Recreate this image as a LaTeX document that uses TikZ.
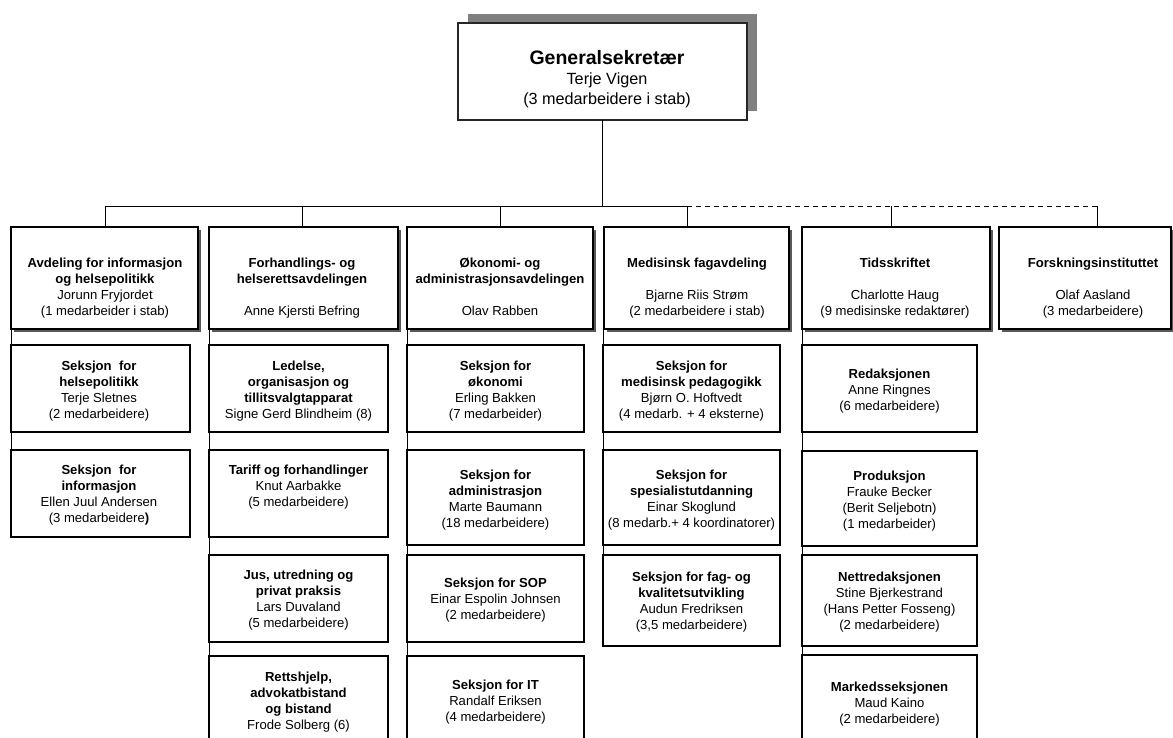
\documentclass[tikz,border=0pt]{standalone}
\usepackage{fontspec}
\setmainfont{Liberation Sans}
\usetikzlibrary{shadows}
\tikzset{
  subbox/.style={draw=black, line width=1.2pt, fill=white, inner sep=0pt, outer sep=0pt, anchor=north west},
  deptbox/.style={draw=black, line width=2.4pt, fill=white, inner sep=0pt, outer sep=0pt, anchor=north west,
     drop shadow={shadow xshift=3pt, shadow yshift=-3pt, fill=black!65, opacity=1}},
  topbox/.style={draw=black!85, line width=1.6pt, fill=white, inner sep=0pt, outer sep=0pt, anchor=north west,
     drop shadow={shadow xshift=10pt, shadow yshift=9pt, fill=black!50, opacity=1}},
  txt/.style={anchor=north, inner sep=0pt, outer sep=0pt, align=center, font=\fontsize{13.1}{16}\selectfont},
  conn/.style={line width=1pt, draw=black},
}
\newcommand{\fl}{\rule{0pt}{12pt}}
\begin{document}
\begin{tikzpicture}[x=1pt, y=-1pt]
\useasboundingbox (0,0) rectangle (1173,737);
\fill[white] (0,0) rectangle (1173,737);
\begin{scope}
\clip (0,0) rectangle (1173,737);

% connectors first
\coordinate (bl) at (105,206);
\coordinate (bm) at (687,206);
\coordinate (br) at (1097,206);
\coordinate (d2) at (302,206);
\coordinate (d3) at (500,206);
\coordinate (d5) at (891,206);

% top box
\node[topbox, minimum width=289pt, minimum height=97pt] (gs) at (458,23) {};
\node[anchor=north, inner sep=0pt, align=center, font=\fontsize{16.2}{20}\selectfont] (gst) at (607,48)
  {{\bfseries\fontsize{19.5}{20}\selectfont\rule{0pt}{16pt}Generalsekretær}\\Terje Vigen\\(3 medarbeidere i stab)};

\draw[conn] (gs.south) -- (gs.south |- bl);
\draw[conn] (bl) -- (bm);
\draw[conn, dash pattern=on 5pt off 4pt] (bm) -- (br);

% department boxes
\node[deptbox, minimum width=187pt, minimum height=102pt] (b1) at (11,227) {};
\node[deptbox, minimum width=189pt, minimum height=102pt] (b2) at (209,227) {};
\node[deptbox, minimum width=186pt, minimum height=102pt] (b3) at (407,227) {};
\node[deptbox, minimum width=185pt, minimum height=102pt] (b4) at (604,227) {};
\node[deptbox, minimum width=188pt, minimum height=102pt] (b5) at (802,227) {};
\node[deptbox, minimum width=172pt, minimum height=102pt] (b6) at (999,227) {};

\draw[conn] (bl) -- (bl |- b1.north);
\draw[conn] (d2) -- (d2 |- b2.north);
\draw[conn] (d3) -- (d3 |- b3.north);
\draw[conn] (bm) -- (bm |- b4.north);
\draw[conn] (d5) -- (d5 |- b5.north);
\draw[conn] (br) -- (br |- b6.north);

\node[txt] (t1) at (105,255.7) {\fl\textbf{Avdeling for informasjon}\\\textbf{og helsepolitikk}\\Jorunn Fryjordet\\(1 medarbeider i stab)};
\node[txt] (t2) at (302,255.7) {\fl\textbf{Forhandlings- og}\\\textbf{helserettsavdelingen}\\[16pt]Anne Kjersti Befring};
\node[txt] (t3) at (500,255.7) {\fl\textbf{Økonomi- og}\\\textbf{administrasjonsavdelingen}\\[16pt]Olav Rabben};
\node[txt] (t4) at (697,255.7) {\fl\textbf{Medisinsk fagavdeling}\\[16pt]Bjarne Riis Strøm\\(2 medarbeidere i stab)};
\node[txt] (t5) at (895,255.7) {\fl\textbf{Tidsskriftet}\\[16pt]Charlotte Haug\\(9 medisinske redaktører)};
\node[txt] (t6) at (1093,255.7) {\fl\textbf{Forskningsinstituttet}\\[16pt]Olaf Aasland\\(3 medarbeidere)};

% column 1
\node[subbox, minimum width=179pt, minimum height=87pt] (c1a) at (11,345) {};
\node[subbox, minimum width=179pt, minimum height=87pt] (c1b) at (11,450) {};
\draw[conn] (b1.south -| c1a.west) -- (c1b.north west);
\node[txt] (c1at) at (99,358.7) {\fl\textbf{Seksjon\ \ for}\\\textbf{helsepolitikk}\\Terje Sletnes\\(2 medarbeidere)};
\node[txt] (c1bt) at (99,462.7) {\fl\textbf{Seksjon\ \ for}\\\textbf{informasjon}\\Ellen Juul Andersen\\(3 medarbeidere\textbf{)}};

% column 2
\node[subbox, minimum width=179pt, minimum height=87pt] (c2a) at (209,345) {};
\node[subbox, minimum width=179pt, minimum height=87pt] (c2b) at (209,450) {};
\node[subbox, minimum width=179pt, minimum height=87pt] (c2c) at (209,555) {};
\node[subbox, minimum width=179pt, minimum height=110pt] (c2d) at (209,656) {};
\draw[conn] (b2.south -| c2a.west) -- (c2d.north west);
\node[txt] (c2at) at (298.5,358.7) {\fl\textbf{Ledelse,}\\\textbf{organisasjon og}\\\textbf{tillitsvalgtapparat}\\Signe Gerd Blindheim (8)};
\node[txt] (c2bt) at (298.5,462.7) {\fl\textbf{Tariff og forhandlinger}\\Knut Aarbakke\\(5 medarbeidere)};
\node[txt] (c2ct) at (298.5,567.7) {\fl\textbf{Jus, utredning og}\\\textbf{privat praksis}\\Lars Duvaland\\(5 medarbeidere)};
\node[txt] (c2dt) at (298.5,669.7) {\fl\textbf{Rettshjelp,}\\\textbf{advokatbistand}\\\textbf{og bistand}\\Frode Solberg (6)};

% column 3
\node[subbox, minimum width=177pt, minimum height=87pt] (c3a) at (407,345) {};
\node[subbox, minimum width=177pt, minimum height=95pt] (c3b) at (407,450) {};
\node[subbox, minimum width=177pt, minimum height=87pt] (c3c) at (407,555) {};
\node[subbox, minimum width=177pt, minimum height=110pt] (c3d) at (407,656) {};
\draw[conn] (b3.south -| c3a.west) -- (c3d.north west);
\node[txt] (c3at) at (495.5,358.7) {\fl\textbf{Seksjon for}\\\textbf{økonomi}\\Erling Bakken\\(7 medarbeider)};
\node[txt] (c3bt) at (495.5,467.7) {\fl\textbf{Seksjon for}\\\textbf{administrasjon}\\Marte Baumann\\(18 medarbeidere)};
\node[txt] (c3ct) at (495.5,575.7) {\fl\textbf{Seksjon for SOP}\\Einar Espolin Johnsen\\(2 medarbeidere)};
\node[txt] (c3dt) at (495.5,677.7) {\fl\textbf{Seksjon for IT}\\Randalf Eriksen\\(4 medarbeidere)};

% column 4
\node[subbox, minimum width=177pt, minimum height=87pt] (c4a) at (603,345) {};
\node[subbox, minimum width=177pt, minimum height=95pt] (c4b) at (603,450) {};
\node[subbox, minimum width=177pt, minimum height=91pt] (c4c) at (603,555) {};
\draw[conn] (b4.south -| c4a.west) -- (c4c.north west);
\node[txt] (c4at) at (691.5,358.7) {\fl\textbf{Seksjon for}\\\textbf{medisinsk pedagogikk}\\Bjørn O. Hoftvedt\\(4 medarb. + 4 eksterne)};
\node[txt] (c4bt) at (691.5,467.7) {\fl\textbf{Seksjon for}\\\textbf{spesialistutdanning}\\Einar Skoglund\\(8 medarb.+ 4 koordinatorer)};
\node[txt] (c4ct) at (691.5,569.7) {\fl\textbf{Seksjon for fag- og}\\\textbf{kvalitetsutvikling}\\Audun Fredriksen\\(3,5 medarbeidere)};

% column 5
\node[subbox, minimum width=175pt, minimum height=87pt] (c5a) at (802,345) {};
\node[subbox, minimum width=175pt, minimum height=95pt] (c5b) at (802,451) {};
\node[subbox, minimum width=175pt, minimum height=91pt] (c5c) at (802,555) {};
\node[subbox, minimum width=175pt, minimum height=110pt] (c5d) at (802,655) {};
\draw[conn] (b5.south -| c5a.west) -- (c5d.north west);
\node[txt] (c5at) at (889.5,366.7) {\fl\textbf{Redaksjonen}\\Anne Ringnes\\(6 medarbeidere)};
\node[txt] (c5bt) at (889.5,468.7) {\fl\textbf{Produksjon}\\Frauke Becker\\(Berit Seljebotn)\\(1 medarbeider)};
\node[txt] (c5ct) at (889.5,569.7) {\fl\textbf{Nettredaksjonen}\\Stine Bjerkestrand\\(Hans Petter Fosseng)\\(2 medarbeidere)};
\node[txt] (c5dt) at (889.5,679.7) {\fl\textbf{Markedsseksjonen}\\Maud Kaino\\(2 medarbeidere)};
\end{scope}
\end{tikzpicture}
\end{document}
